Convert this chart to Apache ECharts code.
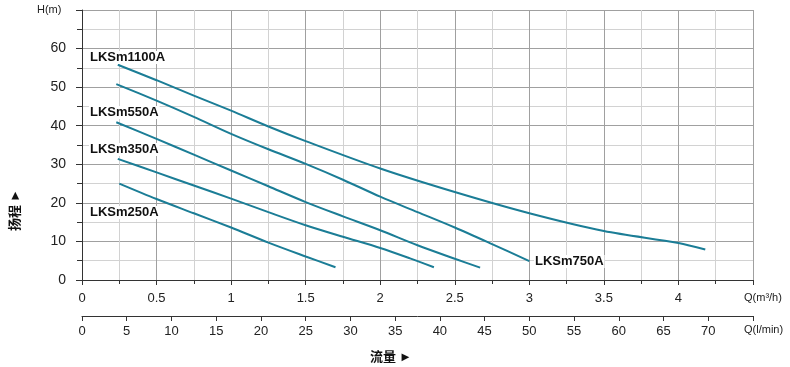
<!DOCTYPE html>
<html><head><meta charset="utf-8">
<script src="https://cdn.jsdelivr.net/npm/echarts@6.0.0/dist/echarts.min.js"></script>
<style>html,body{margin:0;padding:0;background:#fff}#c{width:790px;height:367px}</style>
</head><body><div id="c"></div>
<script>
// Data: Q in m3/h, H in m
const seriesNames = ['LKSm1100A','LKSm750A','LKSm550A','LKSm350A','LKSm250A'];
const lks1100 = [[0.24,55.8],[0.5,51.8],[0.75,47.8],[1.0,43.9],[1.25,39.8],[1.5,36.0],[2.0,28.9],[2.5,22.8],[3.0,17.3],[3.5,12.7],[4.0,9.6],[4.18,7.9]];
const lks750 = [[0.23,50.8],[0.5,46.5],[0.75,42.3],[1.0,37.9],[1.25,33.9],[1.5,30.1],[1.75,26.0],[2.0,21.6],[2.25,17.6],[2.5,13.6],[2.75,9.3],[3.0,4.9]];
const lks550 = [[0.23,40.9],[0.5,36.6],[0.75,32.5],[1.0,28.4],[1.25,24.3],[1.5,20.2],[1.75,16.5],[2.0,12.9],[2.25,9.0],[2.5,5.5],[2.67,3.2]];
const lks350 = [[0.24,31.4],[0.5,27.9],[0.75,24.5],[1.0,21.1],[1.25,17.6],[1.5,14.2],[1.75,11.2],[2.0,8.3],[2.2,5.6],[2.36,3.3]];
const lks250 = [[0.25,25.0],[0.5,21.0],[0.75,17.3],[1.0,13.6],[1.25,9.7],[1.5,6.1],[1.7,3.3]];
const qM3hTicks = [0,0.5,1,1.5,2,2.5,3,3.5,4];
const qLminTicks = [0,5,10,15,20,25,30,35,40,45,50,55,60,65,70];
const hTicks = [0,10,20,30,40,50,60];

const font = "'Liberation Sans', Arial, sans-serif";
const lineColor = '#1b7d96';
const chart = echarts.init(document.getElementById('c'), null, {renderer:'canvas'});
const allData = [lks1100, lks750, lks550, lks350, lks250];

function lbl(text, left, top) {
  return {type:'text', left: left, top: top, z: 100,
    style:{text: text, font:'bold 13px ' + font, fill:'#111', backgroundColor:'#fff', padding:[0,1,0,1]}};
}

const option = {
  animation: false,
  backgroundColor: '#fff',
  grid: {left: 82, top: 10, right: 37, bottom: 87, containLabel: false},
  xAxis: [
    {
      type: 'value', min: 0, max: 4.5, interval: 0.5,
      axisLine: {show: true, lineStyle: {color: '#333', width: 1}},
      axisTick: {show: true, length: 5, lineStyle: {color: '#333'}},
      minorTick: {show: true, splitNumber: 2, length: 4, lineStyle: {color: '#333'}},
      splitLine: {show: true, lineStyle: {color: '#a0a0a0', width: 1}},
      minorSplitLine: {show: true, lineStyle: {color: '#d2d2d2', width: 1}},
      axisLabel: {
        margin: 12, color: '#222', fontSize: 13, fontFamily: font,
        formatter: v => qM3hTicks.indexOf(v) >= 0 ? String(v) : ''
      }
    },
    {
      type: 'value', min: 0, max: 75, interval: 5, position: 'bottom', offset: 36,
      axisLine: {show: true, onZero: false, lineStyle: {color: '#333', width: 1}},
      axisTick: {show: true, length: 5, lineStyle: {color: '#333'}},
      splitLine: {show: false},
      axisLabel: {
        margin: 9, color: '#222', fontSize: 13, fontFamily: font,
        formatter: v => qLminTicks.indexOf(v) >= 0 ? String(v) : ''
      }
    }
  ],
  yAxis: {
    type: 'value', min: 0, max: 70, interval: 10,
    axisLine: {show: true, lineStyle: {color: '#333', width: 1}},
    axisTick: {show: true, length: 6, lineStyle: {color: '#333'}},
    minorTick: {show: true, splitNumber: 2, length: 5, lineStyle: {color: '#333'}},
    splitLine: {show: true, lineStyle: {color: '#a0a0a0', width: 1}},
    minorSplitLine: {show: true, lineStyle: {color: '#d2d2d2', width: 1}},
    axisLabel: {
      margin: 16, color: '#222', fontSize: 14, fontFamily: font,
      formatter: v => hTicks.indexOf(v) >= 0 ? String(v) : ''
    }
  },
  series: allData.map((d, i) => ({
    name: seriesNames[i], type: 'line', xAxisIndex: 0, yAxisIndex: 0,
    data: d, smooth: 0.3, showSymbol: false, symbol: 'none',
    lineStyle: {color: lineColor, width: 2}
  })),
  graphic: [
    lbl('LKSm1100A', 89, 51),
    lbl('LKSm550A', 89, 106),
    lbl('LKSm350A', 89, 143),
    lbl('LKSm250A', 89, 206),
    lbl('LKSm750A', 534, 255),
    {type:'text', left: 37, top: 4, style:{text:'H(m)', font:'11px ' + font, fill:'#222'}},
    {type:'text', left: 744, top: 292, style:{text:'Q(m\u00B3/h)', font:'11px ' + font, fill:'#222'}},
    {type:'text', left: 744, top: 324, style:{text:'Q(l/min)', font:'11px ' + font, fill:'#222'}},
    {type:'text', left: 370, top: 350, style:{text:'流量 \u25BA', font:"bold 13px 'Noto Sans CJK SC', " + font, fill:'#111'}},
    {type:'text', x: 8, y: 231, rotation: Math.PI/2, style:{text:'扬程 \u25BA', font:"bold 13px 'Noto Sans CJK SC', " + font, fill:'#111'}}
  ]
};
chart.setOption(option);
</script></body></html>
